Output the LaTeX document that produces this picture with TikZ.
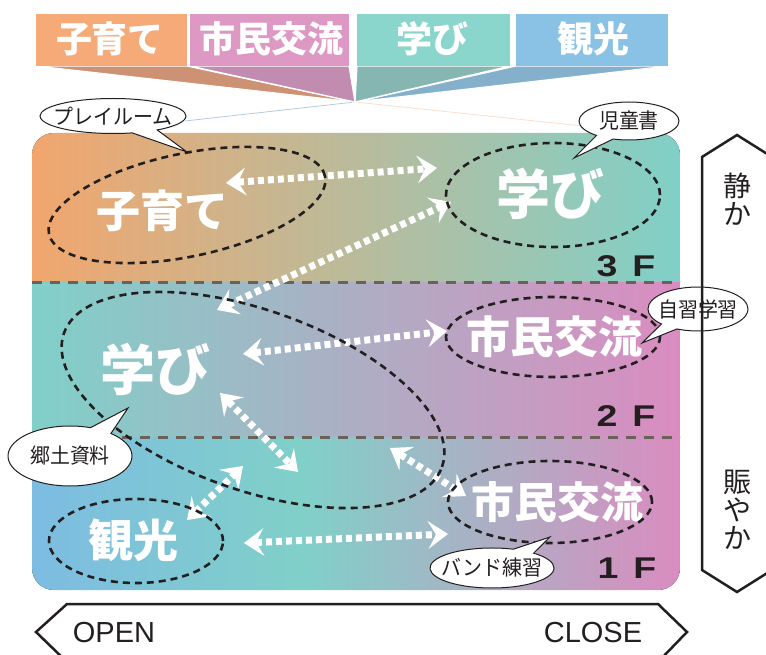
\documentclass[tikz,border=0pt]{standalone}
\usepackage{fontspec}
\setmainfont{Liberation Sans}
\newfontfamily\jp{Noto Sans CJK JP}
\usetikzlibrary{arrows.meta,shapes.geometric,shapes.callouts}
\newcommand\setfs[1]{\fontsize{#1}{#1}\selectfont}
\definecolor{tabO}{HTML}{F5AA78}
\definecolor{tabOd}{HTML}{CD9173}
\definecolor{tabP}{HTML}{DE98C4}
\definecolor{tabPd}{HTML}{C18CB0}
\definecolor{tabT}{HTML}{8AD6CC}
\definecolor{tabTd}{HTML}{86B6B2}
\definecolor{tabB}{HTML}{8AC2E6}
\definecolor{tabBd}{HTML}{84B0CC}
\definecolor{flO}{HTML}{F2A66E}
\definecolor{flT}{HTML}{80D0C8}
\definecolor{flP}{HTML}{DA8CC0}
\definecolor{flB}{HTML}{7DBCE2}
\definecolor{flLine}{HTML}{6A6258}
\definecolor{ink}{HTML}{231F20}
\pgfdeclarehorizontalshading{floorone}{100bp}{color(0bp)=(flB); color(25bp)=(flB); color(46bp)=(flT); color(75bp)=(flP); color(100bp)=(flP)}
\begin{document}
\begin{tikzpicture}[x=1pt,y=-1pt,
  tab/.style={inner sep=0pt, text=white, font=\jp\bfseries\setfs{36}},
  tri/.style={draw=white, line width=1.2pt},
  floorline/.style={draw=flLine, line width=3pt, dash pattern=on 10pt off 8pt},
  dell/.style={ellipse, draw=ink, line width=2.6pt, dash pattern=on 7pt off 5pt, inner sep=0pt},
  bigw/.style={text=white, inner sep=0pt},
  warrow/.style={draw=white, line width=7pt, dash pattern=on 6pt off 4pt,
     {Stealth[length=20pt,width=28pt,inset=8pt,line width=0pt]}-{Stealth[length=20pt,width=28pt,inset=8pt,line width=0pt]}},
  bubble/.style={ellipse callout, draw=ink, line width=1pt, fill=white, inner sep=0pt, callout pointer arc=22},
  btext/.style={font=\jp\setfs{21}, text=ink, inner sep=0pt, xscale=0.95, transform shape},
  flab/.style={font=\bfseries\setfs{30}, text=ink, xscale=1.25, transform shape, inner sep=0pt},
  vtext/.style={font=\jp\fontsize{28}{28}\selectfont, text=ink, align=center, inner sep=0pt},
  oc/.style={font=\setfs{29}, text=ink, inner sep=0pt},
  frame/.style={draw=ink, line width=2.5pt, line join=miter}
]
\useasboundingbox (0,0) rectangle (766,655);

% ---- top tabs ----
\coordinate (apex) at (355,102);
\draw[draw=black!12!tabB!60!white, line width=0.8pt] (apex) -- (185,121);
\draw[draw=tabO!40!white, line width=0.8pt] (apex) -- (583,126);
\filldraw[tri, fill=tabOd] (36,66) -- (187,66) -- (apex) -- cycle;
\filldraw[tri, fill=tabBd] (516,66) -- (668,66) -- (apex) -- cycle;
\filldraw[tri, fill=tabTd] (357,66) -- (510,66) -- (apex) -- cycle;
\filldraw[tri, fill=tabPd] (190,66) -- (349,66) -- (apex) -- cycle;
\fill[tabO] (36,14) rectangle (187,66);
\fill[tabP] (190,14) rectangle (349,66);
\fill[tabT] (357,14) rectangle (510,66);
\fill[tabB] (516,14) rectangle (668,66);
\node[tab] (tabKo) at (110,39) {子育て};
\node[tab] (tabSh) at (271,39) {市民交流};
\node[tab] (tabMa) at (432,39) {学び};
\node[tab] (tabKa) at (593,39) {観光};

% ---- panel ----
\begin{scope}
\clip[rounded corners=22pt] (32,133) rectangle (680,590);
\fill[left color=flO, right color=flT] (32,133) rectangle (680,283);
\fill[left color=flT, right color=flP] (32,283) rectangle (680,437);
\fill[shading=floorone] (32,437) rectangle (680,590);
\end{scope}
\draw[floorline] (32,283) -- (680,283);
\draw[floorline] (32,437) -- (680,437);

% ---- floor labels ----
\node[flab] (f3) at (626,266) {3\hspace{12pt}F};
\node[flab] (f2) at (626,416) {2\hspace{12pt}F};
\node[flab] (f1) at (627,568) {1\hspace{12pt}F};

% ---- white arrows ----
\coordinate (a1s) at (226,183); \coordinate (a1e) at (437,168);
\coordinate (a2s) at (217,310); \coordinate (a2e) at (451,202);
\coordinate (a3s) at (243,354); \coordinate (a3e) at (447,331);
\coordinate (a4s) at (220,393); \coordinate (a4e) at (298,472);
\coordinate (a5s) at (187,520); \coordinate (a5e) at (243,466);
\coordinate (a6s) at (244,543); \coordinate (a6e) at (448,534);
\coordinate (a7s) at (390,448); \coordinate (a7e) at (466,496);
\draw[warrow] (a1s) -- (a1e);
\draw[warrow] (a2s) -- (a2e);
\draw[warrow] (a3s) -- (a3e);
\draw[warrow] (a4s) -- (a4e);
\draw[warrow] (a5s) -- (a5e);
\draw[warrow] (a6s) -- (a6e);
\draw[warrow] (a7s) -- (a7e);

% ---- big white labels ----
\node[bigw, font=\jp\bfseries\setfs{44}] (tKo) at (162,211) {子育て};
\node[bigw, font=\jp\bfseries\setfs{54}] (tMa3) at (550,194) {学び};
\node[bigw, font=\jp\bfseries\setfs{55}] (tMa2) at (155,369) {学び};
\node[bigw, font=\jp\bfseries\setfs{44}] (tSh2) at (554,337) {市民交流};
\node[bigw, font=\jp\bfseries\setfs{43}] (tSh1) at (557,502) {市民交流};
\node[bigw, font=\jp\bfseries\setfs{45}] (tKa) at (133,540) {観光};

% ---- dashed ellipses ----
\node[dell, minimum width=282pt, minimum height=103pt, rotate=11.8] (eKo) at (187,205) {};
\node[dell, minimum width=214pt, minimum height=104pt] (eMa3) at (553,195) {};
\node[dell, minimum width=401pt, minimum height=180pt, rotate=-19.5] (eMa2) at (253,400) {};
\node[dell, minimum width=214pt, minimum height=80pt] (eSh2) at (553,337) {};
\node[dell, minimum width=204pt, minimum height=82pt] (eSh1) at (550,502) {};
\node[dell, minimum width=174pt, minimum height=84pt] (eKa) at (136,541) {};

% ---- speech bubbles ----
\node[bubble, minimum width=146pt, minimum height=35pt, callout absolute pointer={(187,152)}] (bPlay) at (113,116) {};
\node[btext] at (bPlay.center) {プレイルーム};
\node[bubble, minimum width=100pt, minimum height=38pt, callout absolute pointer={(574,158)}] (bBook) at (629,121) {};
\node[btext] at (bBook.center) {児童書};
\node[bubble, minimum width=100pt, minimum height=44pt, callout absolute pointer={(642,343)}] (bSelf) at (698,309) {};
\node[btext] at (bSelf.center) {自習学習};
\node[bubble, minimum width=124pt, minimum height=60pt, callout absolute pointer={(128,408)}] (bLocal) at (70,456) {};
\node[btext] at (bLocal.center) {郷土資料};
\node[bubble, minimum width=124pt, minimum height=40pt, callout absolute pointer={(550,537)}] (bBand) at (492,568) {};
\node[btext] at (bBand.center) {バンド練習};

% ---- right vertical arrow ----
\draw[frame] (702,157) -- (737,135) -- (772,157) -- (772,570) -- (737,592) -- (702,570) -- cycle;
\node[vtext] (quiet) at (737,199) {静\\か};
\node[vtext] (lively) at (737,510) {賑\\や\\か};

% ---- bottom horizontal arrow ----
\draw[frame] (67,662) -- (36,632) -- (67,604) -- (658,604) -- (687,632) -- (658,662);
\node[oc] (open) at (114,633) {OPEN};
\node[oc] (close) at (593,633) {CLOSE};
\end{tikzpicture}
\end{document}
